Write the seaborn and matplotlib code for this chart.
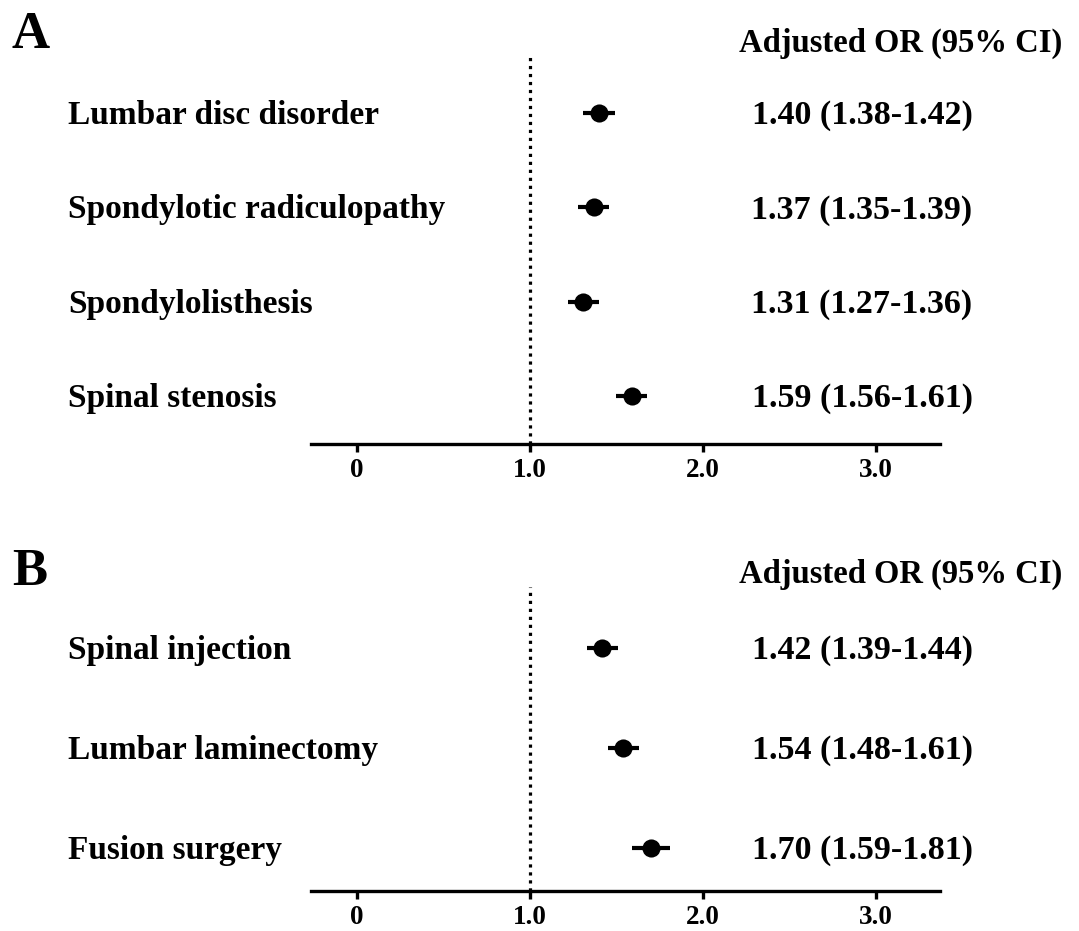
import matplotlib
matplotlib.use("Agg")
import matplotlib.pyplot as plt
import matplotlib.transforms as mtransforms
import pandas as pd
import seaborn as sns

# Panel A: diagnoses
diag_labels = ["Lumbar disc disorder", "Spondylotic radiculopathy",
               "Spondylolisthesis", "Spinal stenosis"]
diag_or = [1.40, 1.37, 1.31, 1.59]
diag_lo = [1.38, 1.35, 1.27, 1.56]
diag_hi = [1.42, 1.39, 1.36, 1.61]

# Panel B: procedures
proc_labels = ["Spinal injection", "Lumbar laminectomy", "Fusion surgery"]
proc_or = [1.42, 1.54, 1.70]
proc_lo = [1.39, 1.48, 1.59]
proc_hi = [1.44, 1.61, 1.81]

x_ticks = [0, 1.0, 2.0, 3.0]
x_tick_labels = ["0", "1.0", "2.0", "3.0"]
column_title = "Adjusted OR (95% CI)"

sns.set_theme(style="white")
plt.rcParams["font.family"] = ["Liberation Serif", "DejaVu Serif"]
plt.rcParams["font.weight"] = "bold"

W, H = 1079, 931
fig = plt.figure(figsize=(W / 100, H / 100), dpi=100)

# minimum drawn half-length of a whisker so that it stays visible behind the dot
MIN_HALF = 0.09


def px_axes(left, top, right, bottom):
    return fig.add_axes([left / W, 1 - bottom / H, (right - left) / W, (bottom - top) / H])


def forest(ax, labels, ors, los, his, ylim, title_y, letter, letter_y):
    df = pd.DataFrame({"label": labels, "or": ors, "lo": los, "hi": his})
    df["pos"] = range(len(df))
    df["wlo"] = [min(l, o - MIN_HALF) for l, o in zip(df["lo"], df["or"])]
    df["whi"] = [max(h, o + MIN_HALF) for h, o in zip(df["hi"], df["or"])]

    ax.axvline(1.0, color="black", lw=2.3, linestyle=(0, (1, 1.5)), zorder=1)
    ax.hlines(df["pos"], df["wlo"], df["whi"], color="black", lw=3.0, zorder=2)
    sns.scatterplot(data=df, x="or", y="pos", ax=ax, s=170, color="black",
                    edgecolor="black", linewidth=0, zorder=3, legend=False)

    ax.set_xlim(-0.265, 3.37)
    ax.set_ylim(*ylim)
    ax.set_xticks(x_ticks)
    ax.set_xticklabels(x_tick_labels, fontsize=19.5, fontweight="bold")
    ax.set_yticks([])
    ax.set_xlabel("")
    ax.set_ylabel("")
    for side in ["top", "right", "left"]:
        ax.spines[side].set_visible(False)
    ax.spines["bottom"].set_linewidth(2.4)
    ax.spines["bottom"].set_color("black")
    ax.tick_params(axis="x", direction="out", length=6, width=2.4, colors="black",
                   pad=4, bottom=True)

    # row text sits on a baseline a little below the row centre
    trans = mtransforms.blended_transform_factory(fig.transFigure, ax.transData)
    trans = mtransforms.offset_copy(trans, fig=fig, y=-11, units="dots")
    for _, r in df.iterrows():
        ax.text(68 / W, r["pos"], r["label"], transform=trans, ha="left",
                va="baseline", fontsize=24, fontweight="bold", color="black")
        ax.text(862 / W, r["pos"], f"{r['or']:.2f} ({r['lo']:.2f}-{r['hi']:.2f})",
                transform=trans, ha="center", va="baseline", fontsize=24.5,
                fontweight="bold", color="black")

    fig.text(1062 / W, 1 - title_y / H, column_title, ha="right", va="baseline",
             fontsize=23.5, fontweight="bold", color="black")
    fig.text(12 / W, 1 - letter_y / H, letter, ha="left", va="baseline",
             fontsize=38, fontweight="bold", color="black")


axA = px_axes(310.7, 55, 940, 444)
forest(axA, diag_labels, diag_or, diag_lo, diag_hi, (3.51, -0.615), 52, "A", 48)

axB = px_axes(310.7, 587, 940, 891)
forest(axB, proc_labels, proc_or, proc_lo, proc_hi, (2.43, -0.61), 583, "B", 585)

fig.savefig("out.png", dpi=100, facecolor="white")
